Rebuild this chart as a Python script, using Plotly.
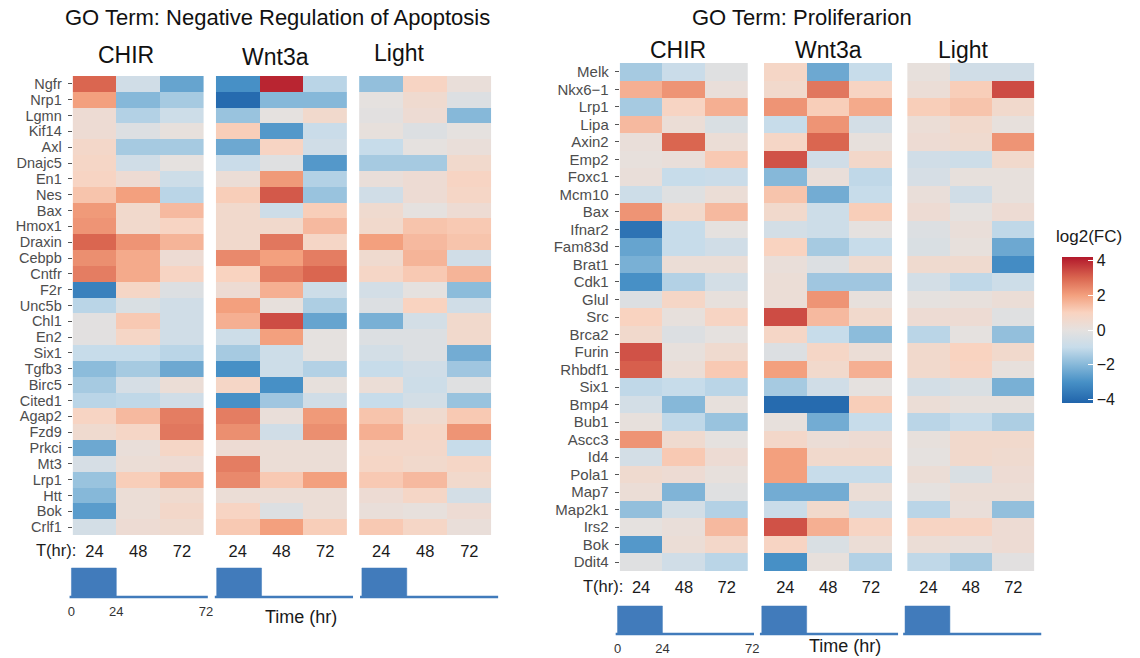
import plotly.graph_objects as go

W, H = 1140, 658
FONT = "Liberation Sans, Arial, Helvetica, sans-serif"

# ---------------- data ----------------
times = ["24", "48", "72"]

genes_apop = ["Ngfr", "Nrp1", "Lgmn", "Kif14", "Axl", "Dnajc5", "En1", "Nes", "Bax", "Hmox1",
              "Draxin", "Cebpb", "Cntfr", "F2r", "Unc5b", "Chl1", "En2", "Six1", "Tgfb3", "Birc5",
              "Cited1", "Agap2", "Fzd9", "Prkci", "Mt3", "Lrp1", "Htt", "Bok", "Crlf1"]

apop_chir = [[3.0, -0.7, -2.5], [2.0, -2.0, -1.5], [0.4, -1.3, -0.8], [0.4, -0.3, 0.1], [0.7, -1.5, -1.5],
             [0.8, -0.7, 0.0], [0.9, 0.4, -0.8], [1.3, 2.0, -1.2], [2.1, 0.6, 1.5], [2.2, 0.6, 0.9],
             [3.0, 2.2, 1.6], [2.3, 1.8, 0.4], [2.6, 1.8, 0.9], [-3.4, 0.8, -0.3], [-1.2, -0.4, -0.7],
             [-0.1, 1.2, -0.7], [-0.1, 0.8, -0.7], [-1.0, -1.0, -1.2], [-1.9, -1.5, -2.4], [-1.5, -0.5, 0.3],
             [-1.2, -1.1, -0.7], [0.9, 1.5, 2.6], [0.5, 0.8, 2.7], [-2.4, 0.2, 0.8], [-0.5, 0.3, 0.4],
             [-1.7, 1.1, 1.7], [-2.0, 0.3, 0.5], [-2.7, 0.3, 0.7], [-0.6, 0.4, 0.5]]

apop_wnt = [[-3.0, 4.0, -1.2], [-4.0, -2.0, -2.0], [-1.7, 0.0, 0.6], [1.1, -2.8, -0.9], [-2.4, 0.9, -0.7],
            [-0.9, -0.2, -2.8], [0.3, 2.1, -1.3], [1.1, 3.2, -1.7], [0.6, -0.8, 1.1], [0.6, 0.6, 1.5],
            [0.6, 2.7, 0.8], [2.4, 2.0, 2.6], [1.0, 2.6, 3.0], [0.4, 1.7, -0.8], [2.0, 0.1, -1.4],
            [1.7, 3.4, -2.5], [-0.8, 2.0, 0.0], [-1.5, -0.8, 0.0], [-3.0, -0.8, -1.3], [0.8, -3.0, 0.1],
            [-3.0, -1.6, -0.7], [2.6, 0.2, 2.1], [2.3, -0.7, 2.3], [0.4, 0.3, 0.3], [2.6, 0.3, 0.3],
            [2.4, 1.2, 2.0], [0.3, 0.3, 0.3], [0.9, -0.3, 0.3], [1.2, 2.0, 1.1]]

apop_light = [[-1.8, 0.9, 0.2], [0.0, 0.5, -0.3], [-0.1, 0.4, -2.0], [0.1, -0.3, 0.0], [-1.0, 0.0, 0.2],
              [-1.5, -1.5, 0.6], [0.2, 0.4, 0.9], [-0.7, 0.4, 0.8], [0.5, 0.0, 0.4], [0.6, 1.3, 1.2],
              [2.0, 1.5, 1.3], [0.5, 1.6, -0.7], [0.8, 1.2, 1.6], [-0.6, 0.0, -1.9], [-0.3, 1.0, -0.7],
              [-2.2, -0.6, 0.6], [-0.3, -0.3, 0.6], [-0.6, -0.3, -2.3], [-1.0, -0.7, -1.6], [0.3, -0.8, -0.2],
              [-1.0, -0.6, -1.7], [1.3, 0.5, 1.2], [1.7, 0.8, 2.2], [0.7, 0.7, -1.0], [0.8, 0.6, 0.8],
              [1.2, 1.5, 0.6], [0.4, 0.8, -0.6], [0.2, 0.1, 0.4], [1.2, 0.8, 0.2]]

genes_prolif = ["Melk", "Nkx6\u22121", "Lrp1", "Lipa", "Axin2", "Emp2", "Foxc1", "Mcm10", "Bax", "Ifnar2",
                "Fam83d", "Brat1", "Cdk1", "Glul", "Src", "Brca2", "Furin", "Rhbdf1", "Six1", "Bmp4",
                "Bub1", "Ascc3", "Id4", "Pola1", "Map7", "Map2k1", "Irs2", "Bok", "Ddit4"]

prolif_chir = [[-1.5, -0.9, -0.2], [1.7, 2.2, 0.2], [-1.5, 0.9, 1.7], [1.5, 0.3, -0.4], [0.2, 3.0, 0.3],
               [0.1, 0.2, 1.2], [0.2, -1.0, -0.9], [-0.8, -0.2, 0.3], [2.2, 0.6, 1.5], [-3.8, -1.0, 0.0],
               [-2.5, -1.0, -0.7], [-2.2, 0.3, 0.3], [-3.0, -1.3, -0.6], [-0.3, 0.8, 0.1], [1.0, 0.1, 0.9],
               [0.6, -0.3, 0.0], [3.3, 0.1, 0.5], [3.1, 0.3, 1.2], [-1.1, -1.0, -1.2], [-0.6, -2.0, 0.1],
               [0.1, -1.1, -1.7], [2.2, 0.5, 0.0], [-0.6, 1.2, 0.4], [0.5, 0.4, 0.1], [0.3, -2.1, -0.2],
               [-1.8, -0.6, -1.3], [0.0, 0.2, 1.5], [-2.8, 0.3, 0.7], [-0.2, -0.7, -1.2]]

prolif_wnt = [[0.8, -2.4, -1.0], [0.6, 2.7, 0.9], [2.2, 1.1, 1.8], [-1.0, 2.2, -0.6], [0.8, 3.0, 0.1],
              [3.3, -0.7, 0.7], [-2.0, 0.2, -1.1], [1.3, -2.3, -1.0], [0.6, -0.8, 1.1], [-0.6, -0.8, 0.0],
              [1.0, -1.5, -1.0], [0.2, -0.3, 0.5], [0.3, -1.6, -1.6], [0.3, 2.2, 0.1], [3.4, 1.5, 0.6],
              [0.8, -1.0, -1.9], [-0.3, 0.8, 0.3], [2.0, 0.6, 1.7], [-1.5, -0.7, 0.0], [-4.0, -4.0, 1.1],
              [0.1, -2.3, -1.0], [0.7, 0.3, 0.4], [2.0, 0.6, 0.6], [2.0, -1.0, -1.0], [-2.3, -2.3, 0.3],
              [-0.9, 0.6, -0.7], [3.3, 1.7, 0.9], [0.9, -0.4, 0.3], [-3.0, 0.1, -1.3]]

prolif_light = [[0.1, -0.7, -0.7], [0.3, 1.1, 3.4], [1.1, 1.3, 0.6], [0.3, 0.6, 0.1], [0.4, 0.5, 2.2],
                [-0.7, -0.8, 0.6], [-0.5, 0.1, 0.1], [0.2, -0.7, 0.1], [0.4, 0.0, 0.4], [-0.3, 0.2, -1.1],
                [-0.4, 0.1, -2.4], [0.5, 0.5, -3.1], [-0.6, -1.1, -0.8], [0.0, 0.1, 0.3], [0.4, 0.4, -0.2],
                [-1.2, 0.0, -1.8], [0.6, 1.0, 0.6], [0.6, 0.9, 0.1], [-0.6, -0.4, -2.2], [0.3, 0.1, 0.1],
                [-1.2, -1.0, -1.4], [0.1, 0.6, 0.6], [0.0, 0.6, 0.5], [0.3, -0.4, 0.4], [0.0, 0.3, 0.3],
                [-1.2, 0.2, -1.8], [0.9, 0.9, 0.4], [0.3, 0.2, 0.4], [-1.1, -1.5, -0.1]]

conditions = ["CHIR", "Wnt3a", "Light"]

# stimulation profile (0-24 hr on, then off until 72 hr)
stim_time = [0, 0, 24, 24]
stim_level = [0, 1, 1, 0]
base_time = [-1, 73]
base_level = [0, 0]
stim_ticks = [0, 24, 72]

# ---------------- style ----------------
colorscale = [
    [0.000, "#2064ab"],
    [0.143, "#4790c6"],
    [0.262, "#86b8d9"],
    [0.381, "#c7dcea"],
    [0.500, "#e5e1df"],
    [0.619, "#f9d3c0"],
    [0.738, "#f3a07e"],
    [0.857, "#da6650"],
    [1.000, "#b2182b"],
]
ZMIN, ZMAX = -4.2, 4.2
STEP_COLOR = "#417bbb"


def dx(a, b):
    return [a / W, b / W]


def dy(top, bottom):
    return [1 - bottom / H, 1 - top / H]


fig = go.Figure()
layout = {}
annotations = []

panels = [
    dict(genes=genes_apop, data=[apop_chir, apop_wnt, apop_light],
         hx=[(72, 204), (216, 348), (360, 493)], hy=(76, 535), gfont=14.5,
         sx=[(68, 208), (214, 354), (360, 500)], sy=(567, 599), srange=[-0.069, 1.0345],
         title="GO Term: Negative Regulation of Apoptosis", tx=278, ty=18,
         cond_x=[126, 276, 400], cond_y=[55, 57, 53],
         thr=(77, 550), time_lbl=(302, 617)),
    dict(genes=genes_prolif, data=[prolif_chir, prolif_wnt, prolif_light],
         hx=[(622, 751), (767, 896), (911, 1039)], hy=(63, 571), gfont=15,
         sx=[(617, 757), (762, 902), (906, 1046)], sy=(605, 636), srange=[-0.071, 1.036],
         title="GO Term: Proliferarion", tx=805, ty=18,
         cond_x=[681, 832, 967], cond_y=[50, 50, 50],
         thr=(627, 586), time_lbl=(848, 646)),
]

ax = 0
first_scale = True
for p in panels:
    for ci in range(3):
        ax += 1
        xa = "x" if ax == 1 else f"x{ax}"
        ya = "y" if ax == 1 else f"y{ax}"
        show_scale = first_scale
        first_scale = False
        fig.add_trace(go.Heatmap(
            z=p["data"][ci], x=times, y=p["genes"], xaxis=xa, yaxis=ya,
            colorscale=colorscale, zmin=ZMIN, zmax=ZMAX, showscale=show_scale,
            colorbar=dict(
                x=1067 / W, xanchor="left", xpad=0,
                y=1 - 330 / H, yanchor="middle", ypad=0,
                len=146 / H, lenmode="fraction", thickness=31, outlinewidth=0,
                tickvals=[-4, -2, 0, 2, 4], ticktext=["\u22124", "\u22122", "0", "2", "4"],
                ticks="inside", tickcolor="white", ticklen=5, tickwidth=1,
                tickfont=dict(size=16, color="#1a1a1a", family=FONT),
            ),
            hovertemplate="%{y} %{x}h: %{z}<extra></extra>",
        ))
        layout[f"xaxis{ax}"] = dict(
            domain=dx(*p["hx"][ci]), anchor=ya, type="category",
            showgrid=False, zeroline=False, showline=False, ticks="",
            tickfont=dict(size=16.5, color="#1a1a1a", family=FONT), ticklabelstandoff=4,
        )
        layout[f"yaxis{ax}"] = dict(
            domain=dy(*p["hy"]), anchor=xa, type="category", autorange="reversed",
            tickmode="array", tickvals=p["genes"], ticktext=p["genes"],
            showgrid=False, zeroline=False, showline=False,
            showticklabels=(ci == 0), ticks="outside" if ci == 0 else "",
            ticklen=4, tickcolor="#555555", tickwidth=1,
            tickfont=dict(size=p["gfont"], color="#4d4d4d", family=FONT), ticklabelstandoff=3,
        )
        annotations.append(dict(
            text=conditions[ci], x=p["cond_x"][ci] / W, y=1 - p["cond_y"][ci] / H,
            xref="paper", yref="paper", xanchor="center", yanchor="middle", showarrow=False,
            font=dict(size=23, color="#111111", family=FONT),
        ))
    # stimulation step plots
    for ci in range(3):
        ax += 1
        xa = f"x{ax}"
        ya = f"y{ax}"
        fig.add_trace(go.Scatter(x=stim_time, y=stim_level, xaxis=xa, yaxis=ya, mode="lines",
                                 fill="toself", fillcolor=STEP_COLOR, line=dict(width=0.5, color=STEP_COLOR),
                                 showlegend=False, hoverinfo="skip"))
        fig.add_trace(go.Scatter(x=base_time, y=base_level, xaxis=xa, yaxis=ya, mode="lines",
                                 line=dict(width=2.5, color=STEP_COLOR), showlegend=False, hoverinfo="skip"))
        layout[f"xaxis{ax}"] = dict(
            domain=dx(*p["sx"][ci]), anchor=ya, range=[-1.5, 73],
            showgrid=False, zeroline=False, showline=False, ticks="",
            tickvals=stim_ticks, showticklabels=(ci == 0),
            tickfont=dict(size=13, color="#333333", family=FONT), ticklabelstandoff=3,
        )
        layout[f"yaxis{ax}"] = dict(
            domain=dy(*p["sy"]), anchor=xa, range=p["srange"],
            showgrid=False, zeroline=False, showline=False, showticklabels=False, ticks="",
        )
    annotations.append(dict(text=p["title"], x=p["tx"] / W, y=1 - p["ty"] / H, xref="paper", yref="paper",
                            xanchor="center", yanchor="middle", showarrow=False,
                            font=dict(size=22, color="#111111", family=FONT)))
    annotations.append(dict(text="T(hr):", x=p["thr"][0] / W, y=1 - p["thr"][1] / H, xref="paper", yref="paper",
                            xanchor="right", yanchor="middle", showarrow=False,
                            font=dict(size=16.5, color="#1a1a1a", family=FONT)))
    annotations.append(dict(text="Time (hr)", x=p["time_lbl"][0] / W, y=1 - p["time_lbl"][1] / H,
                            xref="paper", yref="paper", xanchor="center", yanchor="middle", showarrow=False,
                            font=dict(size=18, color="#1a1a1a", family=FONT)))

# colour bar title
annotations.append(dict(text="log2(FC)", x=1094 / W, y=1 - 236 / H, xref="paper", yref="paper",
                        xanchor="center", yanchor="middle", showarrow=False,
                        font=dict(size=17, color="#1a1a1a", family=FONT)))

fig.update_layout(
    width=W, height=H, margin=dict(l=0, r=0, t=0, b=0),
    paper_bgcolor="white", plot_bgcolor="white",
    font=dict(family=FONT), showlegend=False,
    annotations=annotations, **layout,
)

fig.write_html("out.html", config={"displayModeBar": False},
               post_script="document.body.style.margin='0';document.body.style.overflow='hidden';")
